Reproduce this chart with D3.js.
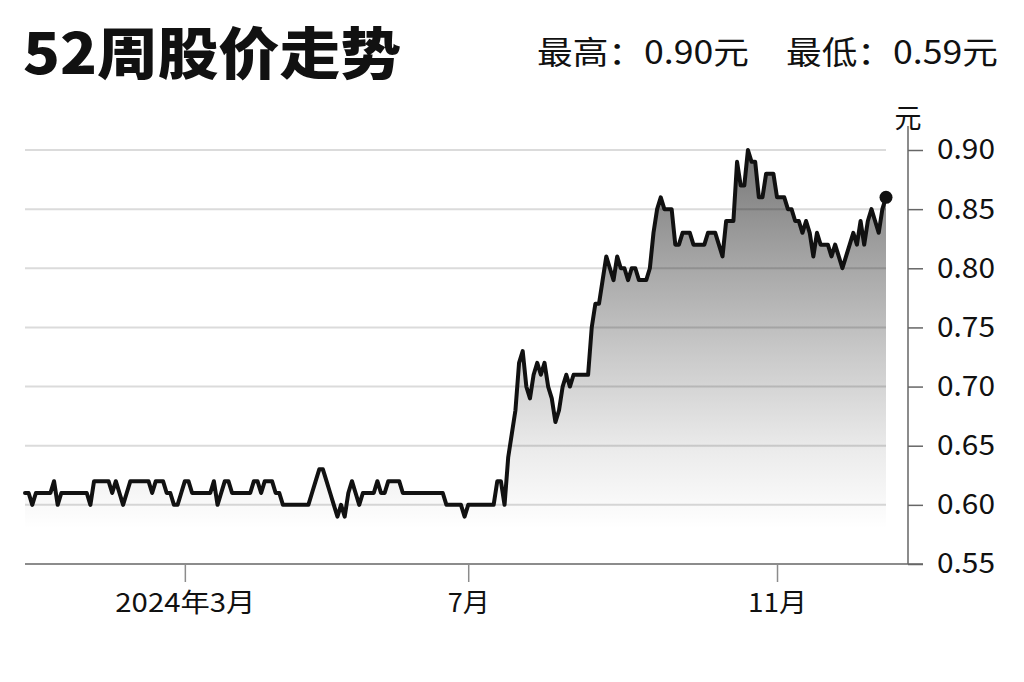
<!DOCTYPE html>
<html><head><meta charset="utf-8">
<script src="https://cdn.jsdelivr.net/npm/d3@7"></script>
<style>
html,body{margin:0;padding:0;background:#fff;}
svg{display:block;font-family:"Noto Sans CJK SC","Noto Sans",sans-serif;}
</style></head>
<body>
<svg id="chart" width="1024" height="682"></svg>
<script>
// ---- data ----
const title = "52周股价走势";
const highLabel = "最高：0.90元";
const lowLabel = "最低：0.59元";
const unitLabel = "元";
// daily closing prices (元), one per trading day over 52 weeks
const prices = [
0.61,0.61,0.60,0.61,0.61,0.61,0.61,0.61,0.62,0.60,
0.61,0.61,0.61,0.61,0.61,0.61,0.61,0.61,0.60,0.62,
0.62,0.62,0.62,0.62,0.61,0.62,0.61,0.60,0.61,0.62,
0.62,0.62,0.62,0.62,0.62,0.61,0.62,0.62,0.62,0.61,
0.61,0.60,0.60,0.61,0.62,0.62,0.61,0.61,0.61,0.61,
0.61,0.61,0.62,0.60,0.61,0.62,0.62,0.61,0.61,0.61,
0.61,0.61,0.61,0.62,0.62,0.61,0.62,0.62,0.62,0.61,
0.61,0.60,0.60,0.60,0.60,0.60,0.60,0.60,0.60,0.61,
0.62,0.63,0.63,0.62,0.61,0.60,0.59,0.60,0.59,0.61,
0.62,0.61,0.60,0.61,0.61,0.61,0.61,0.62,0.61,0.61,
0.62,0.62,0.62,0.62,0.61,0.61,0.61,0.61,0.61,0.61,
0.61,0.61,0.61,0.61,0.61,0.61,0.60,0.60,0.60,0.60,
0.60,0.59,0.60,0.60,0.60,0.60,0.60,0.60,0.60,0.60,
0.62,0.62,0.60,0.64,0.66,0.68,0.72,0.73,0.70,0.69,
0.71,0.72,0.71,0.72,0.70,0.69,0.67,0.68,0.70,0.71,
0.70,0.71,0.71,0.71,0.71,0.71,0.75,0.77,0.77,0.79,
0.81,0.80,0.79,0.81,0.80,0.80,0.79,0.80,0.80,0.79,
0.79,0.79,0.80,0.83,0.85,0.86,0.85,0.85,0.85,0.82,
0.82,0.83,0.83,0.83,0.82,0.82,0.82,0.82,0.83,0.83,
0.83,0.82,0.81,0.84,0.84,0.84,0.89,0.87,0.87,0.90,
0.89,0.89,0.86,0.86,0.88,0.88,0.88,0.86,0.86,0.86,
0.85,0.85,0.84,0.84,0.83,0.84,0.83,0.81,0.83,0.82,
0.82,0.82,0.81,0.82,0.81,0.80,0.81,0.82,0.83,0.82,
0.84,0.82,0.84,0.85,0.84,0.83,0.85,0.86
];
const xTickDays = [44, 122, 207];
const xTickLabels = ["2024年3月", "7月", "11月"];
const yTicks = [0.55, 0.60, 0.65, 0.70, 0.75, 0.80, 0.85, 0.90];

(function draw() {
const svg = d3.select("#chart");
const plotLeft = 25, plotRight = 886, plotTop = 150, plotBottom = 564, axisX = 908;

const x = d3.scaleLinear().domain([0, prices.length - 1]).range([plotLeft, plotRight]);
const y = d3.scaleLinear().domain([0.55, 0.90]).range([plotBottom, plotTop]);

const defs = svg.append("defs");
const grad = defs.append("linearGradient").attr("id", "fillGrad")
  .attr("gradientUnits", "userSpaceOnUse")
  .attr("x1", 0).attr("x2", 0).attr("y1", y(0.90)).attr("y2", y(0.58));
[[0, "#777777"], [0.3, "#a6a6a6"], [0.55, "#cbcbcb"], [0.8, "#ececec"], [1, "#ffffff"]]
  .forEach(([o, c]) => grad.append("stop").attr("offset", o).attr("stop-color", c));

// area
const area = d3.area().x((d, i) => x(i)).y0(y(0.55)).y1(d => y(d));
svg.append("path").datum(prices).attr("d", area).attr("fill", "url(#fillGrad)");

// grid
svg.append("g").selectAll("line").data(yTicks.filter(v => v > 0.55)).join("line")
  .attr("x1", plotLeft).attr("x2", plotRight)
  .attr("y1", d => y(d)).attr("y2", d => y(d))
  .attr("stroke", "rgba(0,0,0,0.14)").attr("stroke-width", 2);

// baseline
svg.append("line").attr("x1", plotLeft).attr("x2", axisX + 15)
  .attr("y1", y(0.55)).attr("y2", y(0.55))
  .attr("stroke", "#8c8c8c").attr("stroke-width", 2);

// x axis
const xAxis = d3.axisBottom(x).tickValues(xTickDays)
  .tickFormat((d, i) => xTickLabels[i]).tickSize(18).tickPadding(6);
const gx = svg.append("g").attr("transform", `translate(0,${y(0.55)})`).call(xAxis);
gx.select(".domain").remove();
gx.selectAll(".tick line").attr("stroke", "#8c8c8c").attr("stroke-width", 1.5);
gx.selectAll(".tick text").attr("fill", "#111").attr("font-size", 26)
  .attr("dy", "0.92em").attr("font-family", "Noto Sans CJK SC")
  .attr("textLength", (d, i) => [140, 42, 59][i]).attr("lengthAdjust", "spacingAndGlyphs");

// y axis
const yAxis = d3.axisRight(y).tickValues(yTicks).tickFormat(d3.format(".2f"))
  .tickSize(15).tickPadding(14);
const gy = svg.append("g").attr("transform", `translate(${axisX},0)`).call(yAxis);
gy.select(".domain").remove();
gy.append("line").attr("x1", 0).attr("x2", 0).attr("y1", 126).attr("y2", y(0.55))
  .attr("stroke", "#666").attr("stroke-width", 1.5);
gy.selectAll(".tick line").attr("stroke", "#666").attr("stroke-width", 1.5);
gy.selectAll(".tick text").attr("fill", "#111").attr("font-size", 28)
  .attr("font-family", "Noto Sans CJK SC")
  .attr("textLength", 58).attr("lengthAdjust", "spacingAndGlyphs");
svg.append("text").attr("x", axisX).attr("y", 128).attr("text-anchor", "middle")
  .attr("font-size", 27).attr("fill", "#111").text(unitLabel);

// line
const line = d3.line().x((d, i) => x(i)).y(d => y(d));
svg.append("path").datum(prices).attr("d", line).attr("fill", "none")
  .attr("stroke", "#111").attr("stroke-width", 4)
  .attr("stroke-linejoin", "round").attr("stroke-linecap", "round");
svg.append("circle").attr("cx", x(prices.length - 1)).attr("cy", y(prices[prices.length - 1]))
  .attr("r", 6.5).attr("fill", "#111");

// titles
svg.append("text").attr("x", 23).attr("y", 74).attr("font-size", 56).attr("font-weight", 900)
  .attr("fill", "#111").attr("textLength", 378).attr("lengthAdjust", "spacingAndGlyphs").text(title);
svg.append("text").attr("x", 537).attr("y", 64).attr("font-size", 32).attr("fill", "#111")
  .attr("textLength", 212).attr("lengthAdjust", "spacingAndGlyphs").text(highLabel);
svg.append("text").attr("x", 786).attr("y", 64).attr("font-size", 32).attr("fill", "#111")
  .attr("textLength", 212).attr("lengthAdjust", "spacingAndGlyphs").text(lowLabel);
})();
</script>
</body></html>
